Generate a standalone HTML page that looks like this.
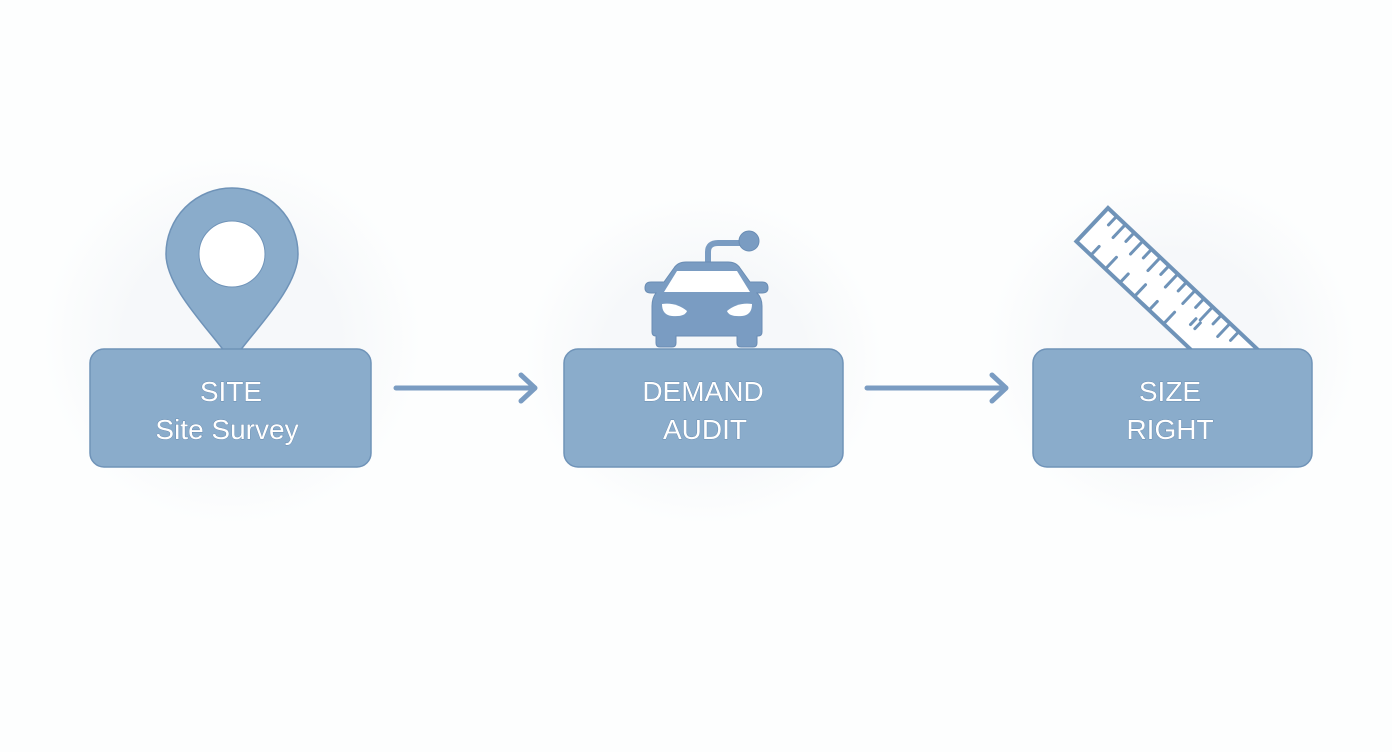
<!DOCTYPE html>
<html><head><meta charset="utf-8"><style>
html,body{margin:0;padding:0;background:#fdfefe;}
svg{display:block}
text{font-family:"Liberation Sans",sans-serif;font-size:28px;fill:#fff;text-anchor:middle;stroke:#5f82a8;stroke-width:0.7px;paint-order:stroke}
</style></head><body>
<svg width="1392" height="752" viewBox="0 0 1392 752">
<defs>
<radialGradient id="g"><stop offset="0.55" stop-color="#f6f8fa"/><stop offset="1" stop-color="#fdfefe"/></radialGradient>
</defs>
<ellipse cx="232" cy="340" rx="190" ry="185" fill="url(#g)"/>
<ellipse cx="704" cy="360" rx="180" ry="165" fill="url(#g)"/>
<ellipse cx="1172" cy="350" rx="185" ry="175" fill="url(#g)"/>

<!-- pin -->
<path d="M232 362 C215 335 166 290 166 254 A66 66 0 1 1 298 254 C298 290 249 335 232 362 Z" fill="#8aaccb" stroke="#6f93b8" stroke-width="1.5"/>
<circle cx="232" cy="254" r="33" fill="#fff" stroke="#6f93b8" stroke-width="1"/>

<!-- car -->
<g fill="#7a9cc2" stroke="#6a8db4" stroke-width="1">
<path d="M708 264 V252 Q708 243 718 243 H742" fill="none" stroke="#7a9cc2" stroke-width="6"/>
<circle cx="749" cy="241" r="10"/>
<path d="M664 282 L674 268 Q678 262 686 262 H728 Q736 262 740 268 L750 282 H762 Q768 282 768 288 Q768 293 762 293 H757 Q762 298 762 306 V332 Q762 336 758 336 H757 V343 Q757 347 753 347 H741 Q737 347 737 343 V336 H676 V343 Q676 347 672 347 H660 Q656 347 656 343 V336 Q652 336 652 332 V306 Q652 298 656 293 H651 Q645 293 645 288 Q645 282 651 282 Z"/>
</g>
<path d="M664 292 L677 271 H737 L750 292 Z" fill="#fff"/>
<path d="M662 304 Q676 302 687 311 Q685 317 672 316 Q662 315 662 304 Z" fill="#fff"/>
<path d="M752 304 Q738 302 727 311 Q729 317 742 316 Q752 315 752 304 Z" fill="#fff"/>

<!-- ruler -->
<g transform="translate(1108,208) rotate(43.4)" stroke="#6f93b8" stroke-width="4" stroke-linecap="round">
<rect x="0" y="0" width="205" height="46" fill="#fff"/>
<g stroke-width="3">
<line x1="12" y1="2" x2="12" y2="12"/><line x1="24" y1="2" x2="24" y2="18"/><line x1="36" y1="2" x2="36" y2="12"/><line x1="48" y1="2" x2="48" y2="18"/><line x1="60" y1="2" x2="60" y2="12"/><line x1="72" y1="2" x2="72" y2="18"/><line x1="84" y1="2" x2="84" y2="12"/><line x1="96" y1="2" x2="96" y2="18"/><line x1="108" y1="2" x2="108" y2="12"/><line x1="120" y1="2" x2="120" y2="18"/><line x1="132" y1="2" x2="132" y2="12"/><line x1="144" y1="2" x2="144" y2="18"/><line x1="156" y1="2" x2="156" y2="12"/><line x1="168" y1="2" x2="168" y2="18"/><line x1="180" y1="2" x2="180" y2="12"/>
<line x1="20" y1="44" x2="20" y2="34"/><line x1="40" y1="44" x2="40" y2="30"/><line x1="60" y1="44" x2="60" y2="34"/><line x1="80" y1="44" x2="80" y2="30"/><line x1="100" y1="44" x2="100" y2="34"/><line x1="120" y1="44" x2="120" y2="30"/>
<line x1="140" y1="28" x2="140" y2="20"/><line x1="146" y1="28" x2="146" y2="20"/>
</g>
</g>

<!-- boxes -->
<g fill="#8aaccb" stroke="#6f93b8" stroke-width="1.5">
<rect x="90" y="349" width="281" height="118" rx="14"/>
<rect x="564" y="349" width="279" height="118" rx="14"/>
<rect x="1033" y="349" width="279" height="118" rx="14"/>
</g>
<text x="231" y="401">SITE</text>
<text x="227" y="439">Site Survey</text>
<text x="703" y="401">DEMAND</text>
<text x="705" y="439">AUDIT</text>
<text x="1170" y="401">SIZE</text>
<text x="1170" y="439">RIGHT</text>

<!-- arrows -->
<g stroke="#7a9cc2" stroke-width="5" stroke-linecap="round" stroke-linejoin="round" fill="none">
<line x1="396" y1="388" x2="534" y2="388"/><polyline points="521,375 535,388 521,401"/>
<line x1="867" y1="388" x2="1005" y2="388"/><polyline points="992,375 1006,388 992,401"/>
</g>
</svg>
</body></html>
